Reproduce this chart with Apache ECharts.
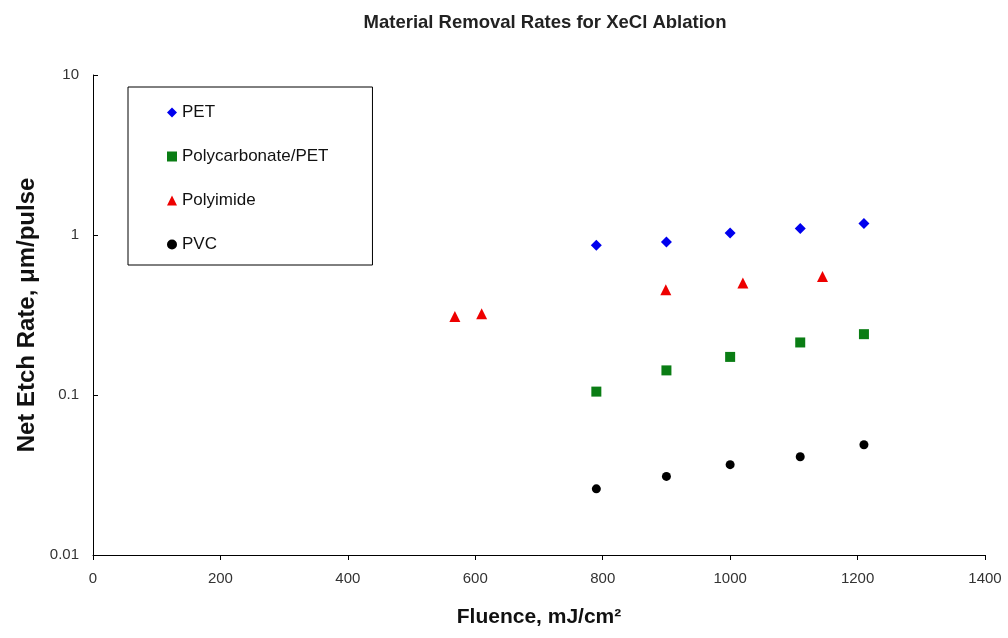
<!DOCTYPE html>
<html><head><meta charset="utf-8">
<script src="https://cdn.jsdelivr.net/npm/echarts@6/dist/echarts.min.js"></script>
<style>html,body{margin:0;padding:0;background:#fff}#c{width:1008px;height:638px}</style>
</head><body><div id="c"></div>
<script>
const petX = [790, 900, 1000, 1110, 1210];
const petY = [0.863, 0.904, 1.03, 1.10, 1.18];
const pcX = [790, 900, 1000, 1110, 1210];
const pcY = [0.105, 0.1425, 0.173, 0.213, 0.240];
const piX = [568, 610, 899, 1020, 1145];
const piY = [0.31, 0.322, 0.455, 0.501, 0.551];
const pvcX = [790, 900, 1000, 1110, 1210];
const pvcY = [0.0259, 0.031, 0.0367, 0.0411, 0.0489];
const xTicks = [0, 200, 400, 600, 800, 1000, 1200, 1400];
const yTicks = [0.01, 0.1, 1, 10];

const pair = (xs, ys) => xs.map((x, i) => [x, ys[i]]);
const font = 'Arial, "Liberation Sans", sans-serif';
const chart = echarts.init(document.getElementById('c'));
chart.setOption({
  animation: false,
  title: {
    text: 'Material Removal Rates for XeCl Ablation',
    left: 540, top: 8, textAlign: 'center',
    textStyle: {fontFamily: font, fontSize: 18.5, fontWeight: 'bold', color: '#222'}
  },
  legend: {
    orient: 'vertical', left: 128, top: 87,
    padding: [17, 44, 12, 39],
    itemWidth: 10, itemHeight: 10, itemGap: 27,
    borderColor: '#000', borderWidth: 1,
    textStyle: {fontFamily: font, fontSize: 17, color: '#111'},
    data: ['PET', 'Polycarbonate/PET', 'Polyimide', 'PVC']
  },
  grid: {left: 93, top: 75, right: 23, bottom: 83},
  xAxis: {
    type: 'value', min: 0, max: 1400, interval: 200,
    name: 'Fluence, mJ/cm²', nameLocation: 'middle', nameGap: 52,
    nameTextStyle: {fontFamily: font, fontSize: 21, fontWeight: 'bold', color: '#111'},
    axisLine: {lineStyle: {color: '#000', width: 1}},
    axisTick: {show: true, length: 5, lineStyle: {color: '#000'}},
    axisLabel: {fontFamily: font, fontSize: 15, color: '#333', margin: 16,
      formatter: v => xTicks.includes(v) ? String(v) : ''},
    splitLine: {show: false}
  },
  yAxis: {
    type: 'log', logBase: 10, min: 0.01, max: 10,
    name: 'Net Etch Rate, μm/pulse', nameLocation: 'middle', nameGap: 50,
    nameTextStyle: {fontFamily: font, fontSize: 24, fontWeight: 'bold', color: '#111'},
    axisLine: {show: true, lineStyle: {color: '#000', width: 1}},
    axisTick: {show: true, inside: true, length: 5, lineStyle: {color: '#000'}},
    axisLabel: {fontFamily: font, fontSize: 15, color: '#333', margin: 14,
      formatter: v => { const t = yTicks.find(y => Math.abs(y - v) / y < 1e-6); return t === undefined ? '' : String(t); }},
    splitLine: {show: false}
  },
  series: [
    {name: 'PET', type: 'scatter', symbol: 'diamond', symbolSize: 11,
     itemStyle: {color: '#0000ee', opacity: 1}, data: pair(petX, petY)},
    {name: 'Polycarbonate/PET', type: 'scatter', symbol: 'rect', symbolSize: 10,
     itemStyle: {color: '#0a7d14', opacity: 1}, data: pair(pcX, pcY)},
    {name: 'Polyimide', type: 'scatter', symbol: 'triangle', symbolSize: 11,
     itemStyle: {color: '#ee0000', opacity: 1}, data: pair(piX, piY)},
    {name: 'PVC', type: 'scatter', symbol: 'circle', symbolSize: 9,
     itemStyle: {color: '#000', opacity: 1}, data: pair(pvcX, pvcY)}
  ]
});
</script></body></html>
